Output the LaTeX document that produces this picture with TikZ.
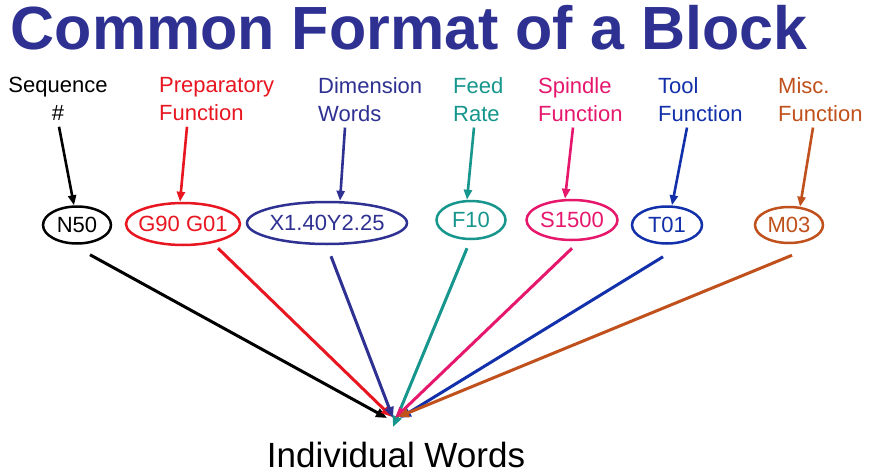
\documentclass[tikz,border=0pt]{standalone}
\usepackage{fontspec}
\setmainfont{Liberation Sans}
\usepackage{tikz}
\usetikzlibrary{arrows.meta,shapes.geometric}
\definecolor{ttl}{RGB}{46,49,146}
\definecolor{gred}{RGB}{232,22,32}
\definecolor{dnavy}{RGB}{46,49,146}
\definecolor{fteal}{RGB}{22,150,140}
\definecolor{spink}{RGB}{230,24,110}
\definecolor{tblue}{RGB}{18,48,170}
\definecolor{morange}{RGB}{192,80,28}

\begin{document}
\begin{tikzpicture}[x=1pt,y=-1pt,
	lbl/.style={inner sep=0pt,font=\fontsize{22}{28}\selectfont},
	wrd/.style={ellipse,draw,line width=2.5pt,inner xsep=-6pt,inner ysep=0pt,font=\fontsize{22}{26}\selectfont},
	arr/.style={line width=3pt,-{Triangle[length=11pt,width=9pt]}},
	uparr/.style={line width=2.6pt,-{Triangle[length=10pt,width=8pt]}}]
			\useasboundingbox[fill=white] (0,0) rectangle (872,476);
			\node (title) at (409,50) [anchor=base,ttl,font=\fontsize{61}{61}\selectfont\bfseries] {Common Format of a Block};
			% labels
			\node (seq) at (58,77) [anchor=north,lbl,align=center] {Sequence\\\#};
			\node (prep) at (159,77) [anchor=north west,lbl,align=left,gred] {Preparatory\\Function};
			\node (dim) at (318,77) [anchor=north west,lbl,align=left,dnavy] {Dimension\\Words};
			\node (feed) at (453,77) [anchor=north west,lbl,align=left,fteal] {Feed\\Rate};
			\node (spin) at (538,77) [anchor=north west,lbl,align=left,spink] {Spindle\\Function};
			\node (tool) at (658,77) [anchor=north west,lbl,align=left,tblue] {Tool\\Function};
			\node (misc) at (778,77) [anchor=north west,lbl,align=left,morange] {Misc.\\Function};
			% words
			\node (n50) at (77,225) [wrd,minimum width=68pt,minimum height=37pt] {N50};
			\node (g90) at (183,224) [wrd,gred,minimum width=114pt,minimum height=42pt] {G90 G01};
			\node (x140) at (327,223) [wrd,dnavy,minimum width=160pt,minimum height=42pt] {X1.40Y2.25};
			\node (f10) at (471,220) [wrd,fteal,minimum width=69pt,minimum height=38pt] {F10};
			\node (s1500) at (572,220) [wrd,spink,minimum width=91pt,minimum height=40pt] {S1500};
			\node (t01) at (667,225) [wrd,tblue,minimum width=70pt,minimum height=37pt] {T01};
			\node (m03) at (789,225) [wrd,morange,minimum width=68pt,minimum height=36pt] {M03};
			\node (words) at (396,467) [anchor=base,font=\fontsize{35}{35}\selectfont] {Individual Words};
			\coordinate (hub) at (393,418);
			% labels to words
			\draw[uparr] ([xshift=1pt,yshift=-6pt]seq.south) -- ([xshift=-3pt]n50.north);
			\draw[uparr,gred] ([xshift=28pt,yshift=-6pt]prep.south west) -- ([xshift=-3pt]g90.north);
			\draw[uparr,dnavy] ([xshift=27pt,yshift=-6pt]dim.south west) -- ([xshift=13pt]x140.north);
			\draw[uparr,fteal] ([xshift=21pt,yshift=-6pt]feed.south west) -- ([xshift=-4pt]f10.north);
			\draw[uparr,spink] ([xshift=35pt,yshift=-6pt]spin.south west) -- ([xshift=-7pt]s1500.north);
			\draw[uparr,tblue] ([xshift=29pt,yshift=-6pt]tool.south west) -- ([xshift=5pt]t01.north);
			\draw[uparr,morange] ([xshift=35pt,yshift=-6pt]misc.south west) -- ([xshift=11pt,yshift=-1pt]m03.north);
			% words to hub
			\draw[arr] ([xshift=13pt,yshift=-10pt]n50.south) -- ([xshift=-6pt]hub);
			\draw[arr,gred] ([xshift=35pt,yshift=-2pt]g90.south) -- ([xshift=-1pt,yshift=1pt]hub);
			\draw[arr,dnavy] ([xshift=4pt,yshift=-11pt]x140.south) -- (hub);
			\draw[arr,fteal] ([xshift=-4pt,yshift=-8pt]f10.south) -- ([yshift=-9pt]hub);
			\draw[arr,spink] ([yshift=-7pt]s1500.south) -- ([xshift=2pt]hub);
			\draw[arr,tblue] ([xshift=-4pt,yshift=-12pt]t01.south) -- ([xshift=7pt]hub);
			\draw[arr,morange] ([xshift=3pt,yshift=-11pt]m03.south) -- ([xshift=5pt,yshift=1pt]hub);
		\end{tikzpicture}
\end{document}
